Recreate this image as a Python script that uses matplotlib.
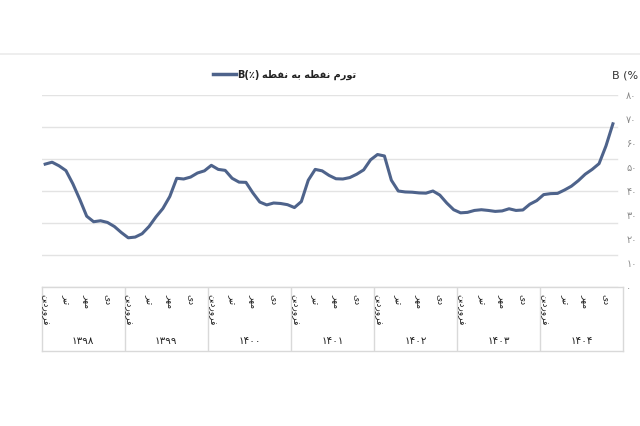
import matplotlib
matplotlib.use("Agg")
import matplotlib.pyplot as plt
from matplotlib.lines import Line2D

plt.rcParams['font.family'] = ['DejaVu Sans']

# point-to-point inflation (%), monthly from Farvardin 1398
values = [51.2, 52.0, 50.5, 48.5, 43.0, 36.5, 29.5, 27.2, 27.6, 26.9, 25.2, 22.7,
          20.5, 20.8, 22.2, 25.2, 29.2, 32.7, 37.7, 45.3, 45.0, 45.8, 47.5, 48.4,
          50.7, 49.0, 48.6, 45.3, 43.7, 43.6, 39.2, 35.4, 34.2, 35.0, 34.8, 34.3,
          33.1, 35.6, 44.5, 49.0, 48.4, 46.5, 45.1, 45.0, 45.6, 47.0, 48.8, 53.0,
          55.2, 54.6, 44.5, 40.0, 39.6, 39.5, 39.2, 39.1, 40.0, 38.3, 35.0, 32.2,
          30.9, 31.1, 31.9, 32.2, 31.9, 31.5, 31.7, 32.6, 31.9, 32.1, 34.5, 36.0,
          38.5, 38.9, 39.0, 40.4, 42.0, 44.3, 47.0, 49.0, 51.4, 58.8, 68.0]

# labels shaped with Arabic presentation forms, in visual (left to right) order
def vis(s):
    return s[::-1]

years = ["۱۳۹۸", "۱۳۹۹", "۱۴۰۰", "۱۴۰۱", "۱۴۰۲", "۱۴۰۳", "۱۴۰۴"]
month_labels = [vis("\uFED3\uFEAE\uFEED\uFEAD\uFEA9\uFEF3\uFEE6"),  # farvardin
                vis("\uFE97\uFEF4\uFEAE"),                          # tir
                vis("\uFEE3\uFEEC\uFEAE"),                          # mehr
                vis("\uFEA9\uFEEF")]                                # dey
month_idx = [0, 3, 6, 9]
ytick_vals = [0, 10, 20, 30, 40, 50, 60, 70, 80]
ytick_labels = ["۰", "۱۰", "۲۰", "۳۰", "۴۰", "۵۰", "۶۰", "۷۰", "۸۰"]
series_name = vis("\uFE97\uFEEE\uFEAD\uFEE1 \uFEE7\uFED4\uFEC4\uFEEA \uFE91\uFEEA \uFEE7\uFED4\uFEC4\uFEEA")

line_color = '#4e638b'
W, H = 640, 427

fig = plt.figure(figsize=(6.4, 4.27), dpi=100)
fig.patch.set_facecolor('white')

x0, x1 = 41.7, 623.3
ax = fig.add_axes([x0 / W, (H - 288) / H, (x1 - x0) / W, (288 - 96) / H])
ax.set_xlim(0, 84)
ax.set_ylim(0, 80)
for k in range(7):
    ax.axhline(k * 80 / 6, xmin=0, xmax=0.99, color='#e3e3e3', lw=1.0, zorder=1)
xs = [i + 0.5 for i in range(len(values))]
ax.plot(xs, values, color=line_color, lw=2.2, solid_joinstyle='round', zorder=3)
ax.set_xticks([])
ax.set_yticks([])
for s in ax.spines.values():
    s.set_visible(False)
for v, lab in zip(ytick_vals, ytick_labels):
    ax.text(1.005, v / 80, lab, transform=ax.transAxes, ha='left', va='center',
            fontsize=7, color='#8a8a8a')

# category box below the plot
bx = fig.add_axes([x0 / W, (H - 352) / H, (x1 - x0) / W, (352 - 288) / H])
bx.set_xlim(0, 84)
bx.set_ylim(0, 1)
bx.set_xticks([])
bx.set_yticks([])
for s in bx.spines.values():
    s.set_color('#d9d9d9')
    s.set_linewidth(1.0)
for y in range(1, 7):
    bx.axvline(12 * y, color='#d9d9d9', lw=1.0)
for y, yl in enumerate(years):
    for m, ml in zip(month_idx, month_labels):
        bx.text(12 * y + m + 0.5, 0.9, ml, rotation=270, ha='center', va='top',
                fontsize=6.5, color='#222222')
    bx.text(12 * y + 6, 0.17, yl, ha='center', va='center', fontsize=7.5, color='#222222')

# top separator, legend and unit label
fig.add_artist(Line2D([0, 1], [(H - 55) / H] * 2, color='#ebebeb', lw=1.2))
ly = (H - 75) / H
fig.add_artist(Line2D([213 / W, 236 / W], [ly, ly], color=line_color, lw=2.5))
fig.text(237 / W, ly, "B(٪)", ha='left', va='center', fontsize=7, fontweight='bold', color='#222222')
fig.text(262 / W, ly, series_name, ha='left', va='center', fontsize=7, fontweight='bold', color='#222222')
fig.text(638 / W, ly, "B (%", ha='right', va='center', fontsize=8, color='#333333')

fig.savefig("out.png", dpi=100, facecolor='white')
